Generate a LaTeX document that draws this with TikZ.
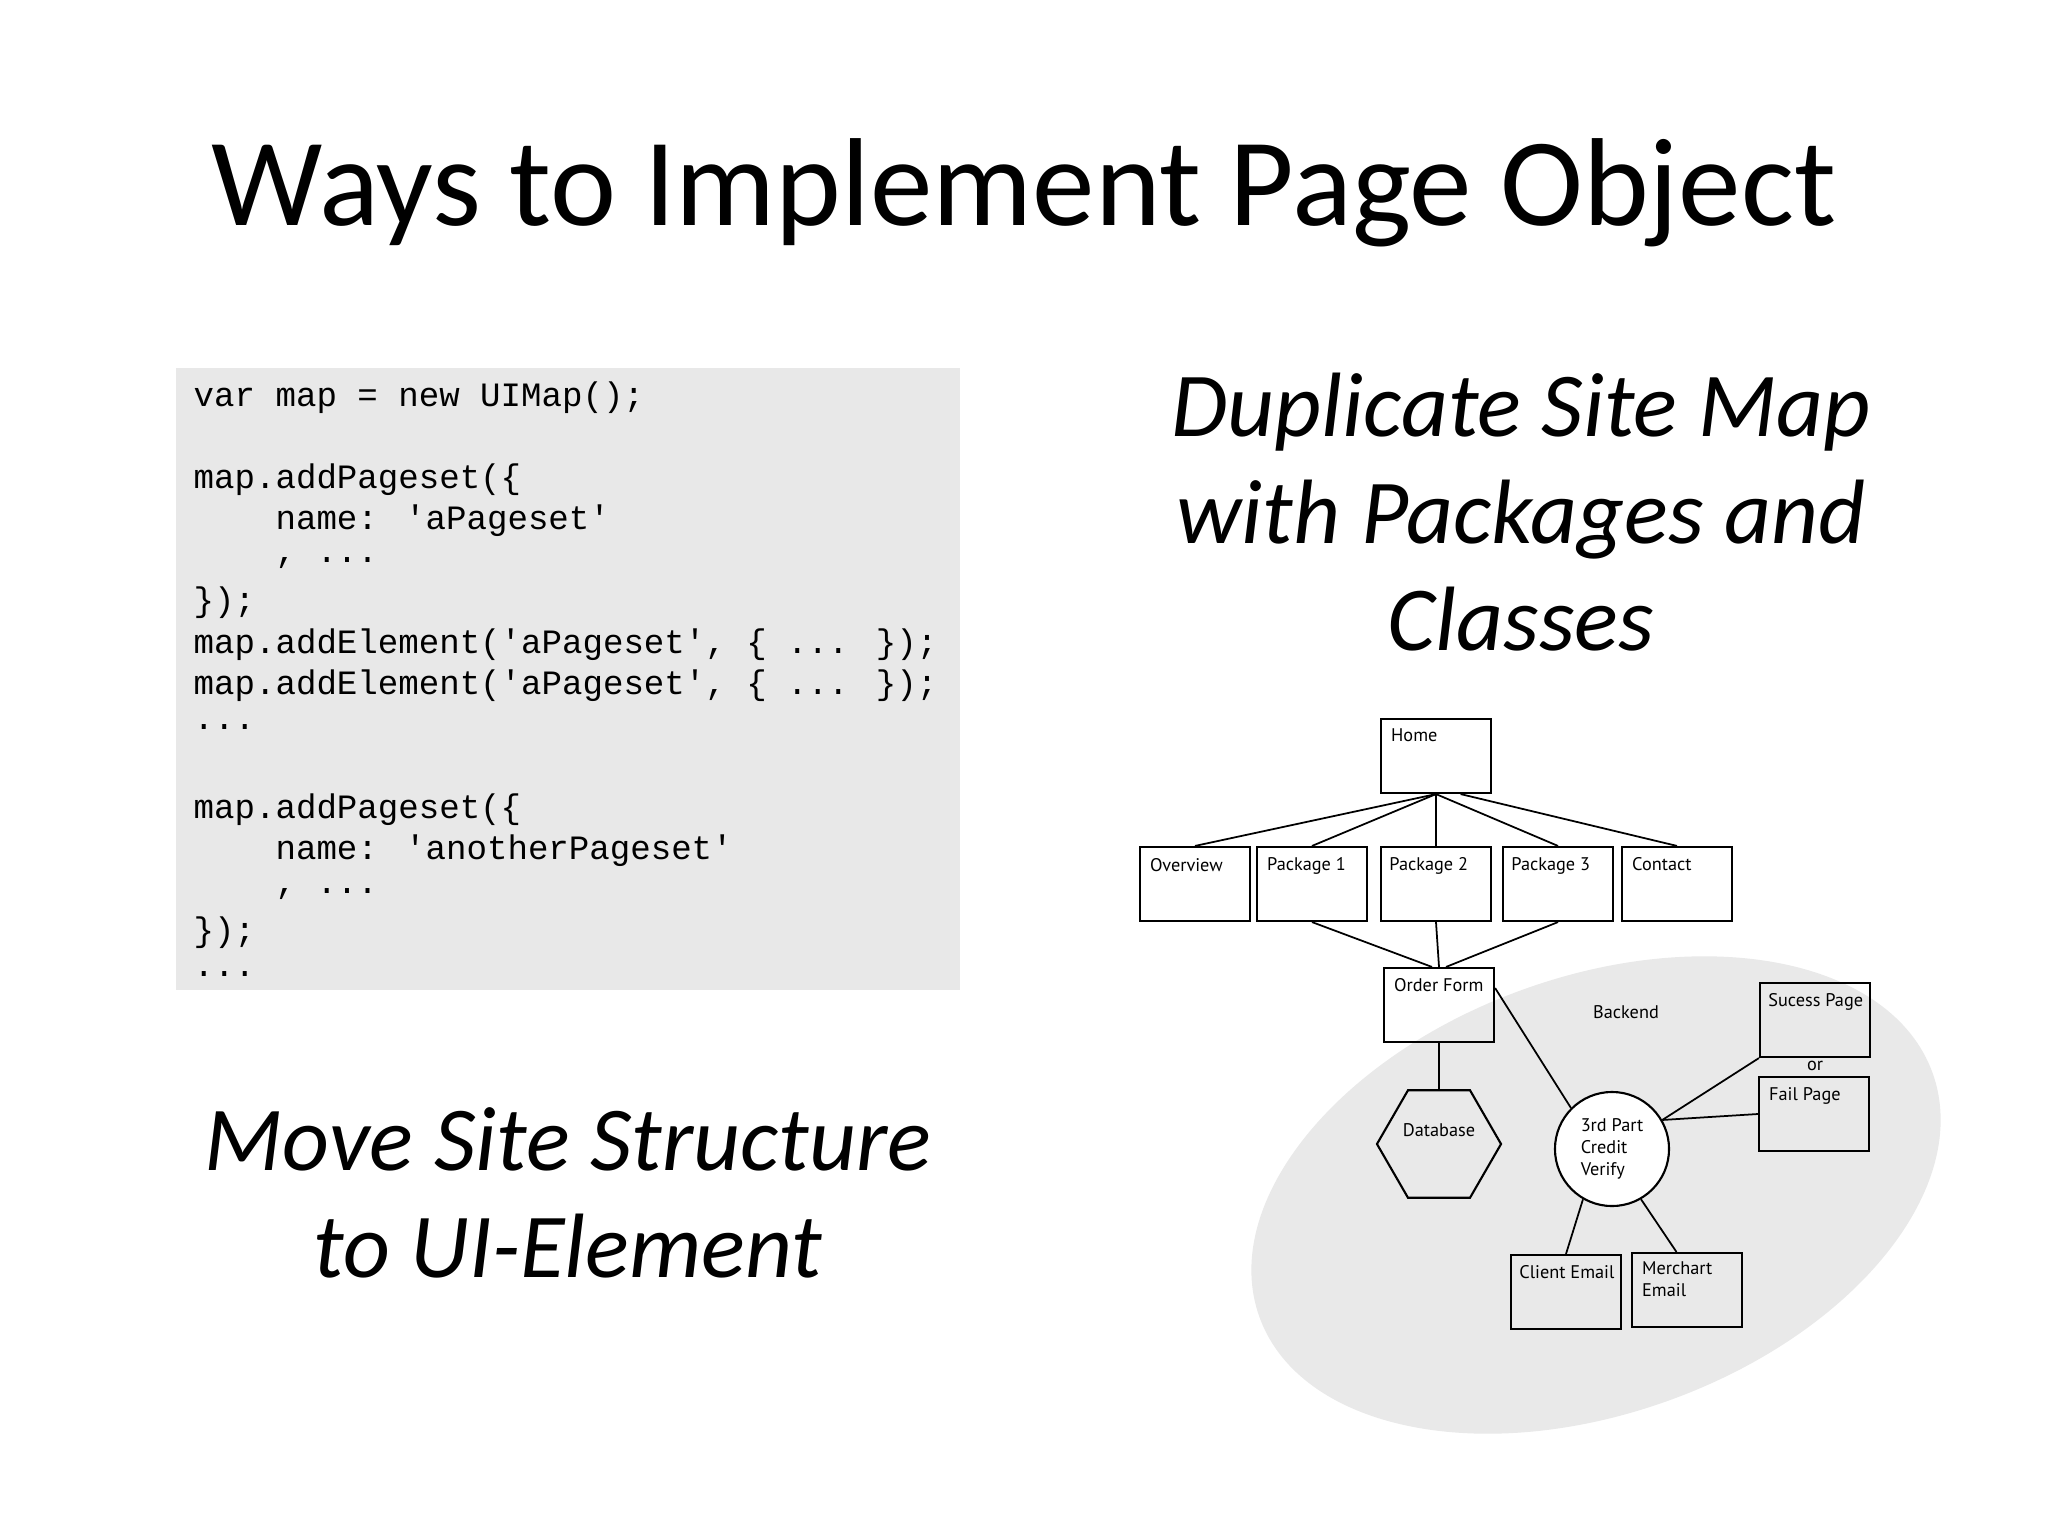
\documentclass[tikz,border=0pt]{standalone}
\usepackage{fontspec}
\setmainfont{Carlito}
\newfontfamily\codefont{Liberation Mono}
\newfontfamily\diafont{PT Sans}
\usetikzlibrary{shapes.geometric}
\begin{document}
\begin{tikzpicture}[x=0.01cm,y=0.01cm,
  pbox/.style={draw,line width=0.6pt,minimum width=1.1cm,minimum height=0.74cm,inner sep=0pt},
  lbl/.style={font=\diafont\fontsize{5.2}{6.2}\selectfont,align=left,anchor=north west,inner sep=0pt},
  conn/.style={line width=0.5pt},
  codeline/.style={anchor=west,font=\codefont\fontsize{9.7}{10}\selectfont,inner sep=0pt}]
\useasboundingbox (0,0) rectangle (2048,-1536);
\fill[white] (0,0) rectangle (2048,-1536);
% title
\node[font=\fontsize{35.6}{40}\selectfont] (title) at (1024,-193) {Ways to Implement Page Object};
% code box
\fill[gray!18] (176,-368) rectangle (960,-990);
\foreach \y/\t in {398/{var map = new UIMap();},
 480/{map.addPageset(\{},
 521/{\ \ \ \ name: 'aPageset'},
 563/{\ \ \ \ , ...},
 603/{\});},
 645/{map.addElement('aPageset', \{ ... \});},
 686/{map.addElement('aPageset', \{ ... \});},
 727/{...},
 810/{map.addPageset(\{},
 851/{\ \ \ \ name: 'anotherPageset'},
 894/{\ \ \ \ , ...},
 933/{\});},
 974/{...}}
  \node[codeline] at (193,-\y) {\t};
% headings
\node[font=\itshape\fontsize{26}{30.5}\selectfont,align=center] (dup) at (1521,-512) {Duplicate Site Map\\with Packages and\\Classes};
\node[font=\itshape\fontsize{26}{30.5}\selectfont,align=center] (move) at (568,-1193) {Move Site Structure\\to UI-Element};
% backend ellipse
\fill[gray!17,rotate around={20:(1596,-1195)}] (1596,-1195) ellipse (358 and 218);
% nodes
\node[pbox] (home) at (1436,-756) {};
\node[pbox] (ov) at (1195,-884) {};
\node[pbox] (p1) at (1312,-884) {};
\node[pbox] (p2) at (1436,-884) {};
\node[pbox] (p3) at (1558,-884) {};
\node[pbox] (ct) at (1677,-884) {};
\node[pbox] (of) at (1439,-1005) {};
\node[draw,line width=0.6pt,regular polygon,regular polygon sides=6,minimum size=1.24cm,inner sep=0pt] (db) at (1439,-1144) {};
\node[draw,line width=0.6pt,circle,minimum size=1.14cm,inner sep=0pt,fill=white] (cv) at (1612,-1149) {};
\node[pbox] (sp) at (1815,-1020) {};
\node[pbox] (fp) at (1814,-1114) {};
\node[pbox] (ce) at (1566,-1292) {};
\node[pbox] (me) at (1687,-1290) {};
% labels
\node[lbl] at ([xshift=3pt,yshift=-3pt]home.north west) {Home};
\node[lbl] at ([xshift=3pt,yshift=-3.5pt]ov.north west) {Overview};
\node[lbl] at ([xshift=3pt,yshift=-3pt]p1.north west) {Package 1};
\node[lbl] at ([xshift=2.5pt,yshift=-3pt]p2.north west) {Package 2};
\node[lbl] at ([xshift=2.5pt,yshift=-3pt]p3.north west) {Package 3};
\node[lbl] at ([xshift=3pt,yshift=-3pt]ct.north west) {Contact};
\node[lbl] at ([xshift=3pt,yshift=-3pt]of.north west) {Order Form};
\node[lbl] at ([xshift=2.5pt,yshift=-3pt]sp.north west) {Sucess Page};
\node[lbl] at ([xshift=3pt,yshift=-3pt]fp.north west) {Fail Page};
\node[lbl] at ([xshift=2.5pt,yshift=-3pt]ce.north west) {Client Email};
\node[lbl] at ([xshift=3pt,yshift=-2.5pt]me.north west) {Merchart\\Email};
\node[lbl,anchor=center] at ([yshift=4pt]db.center) {Database};
\node[lbl,anchor=center] at (cv.center) {3rd Part\\Credit\\Verify};
\node[lbl,anchor=center] (be) at (1626,-1012) {Backend};
\node[lbl,anchor=center] (orl) at (1815,-1066) {or};
% connectors
\draw[conn] (home.south) -- (ov.north);
\draw[conn] (home.south) -- (p1.north);
\draw[conn] (home.south) -- (p2.north);
\draw[conn] (home.south) -- (p3.north);
\draw[conn] ([xshift=7pt]home.south) -- (ct.north);
\draw[conn] (p1.south) -- ([xshift=-2pt]of.north);
\draw[conn] (p2.south) -- (of.north);
\draw[conn] (p3.south) -- ([xshift=2pt]of.north);
\draw[conn] (of.south) -- (db.north);
\draw[conn] ([yshift=-6pt]of.north east) -- (cv.north west);
\draw[conn] (cv.30) -- (sp.south west);
\draw[conn] (cv.30) -- (fp.west);
\draw[conn] (cv.240) -- (ce.north);
\draw[conn] (cv.300) -- ([xshift=-3pt]me.north);
\end{tikzpicture}
\end{document}
